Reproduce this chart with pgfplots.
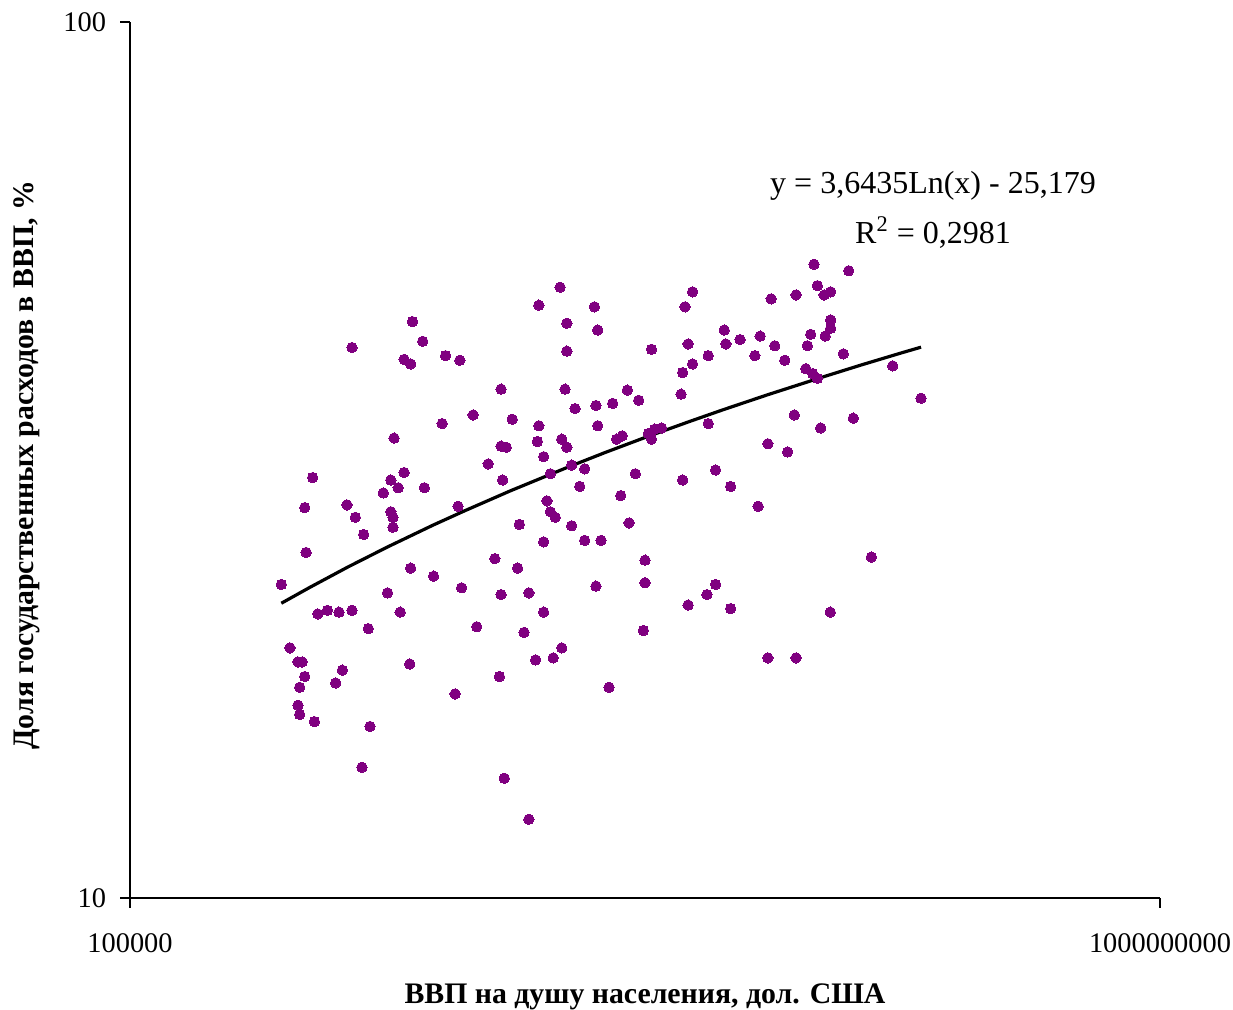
\documentclass[border=0pt]{standalone}
\usepackage{fontspec}
\setmainfont{Liberation Serif}
\usepackage{pgfplots}
\usepackage{pgfplotstable}
\pgfplotsset{compat=1.18}
\definecolor{dotpurple}{HTML}{800080}
\pgfplotstableread{
x y
1.25e6 45.5
1.37e6 43.2
7.28e5 42.5
1.16e6 41.2
1.23e6 40.7
1.68e6 41.6
1.91e6 41.1
2.15e6 35.6
1.63e6 34.8
1.06e6 33.5
4.68e6 49.8
3.87e6 47.5
6.36e6 47.3
1.53e7 49.2
1.43e7 47.3
4.97e6 45.3
6.55e6 44.5
4.97e6 42.1
1.06e7 42.3
1.47e7 42.9
1.53e7 40.7
1.40e7 39.8
1.76e7 41.6
2.76e6 38.1
4.89e6 38.1
8.54e6 38.0
9.45e6 37.0
1.38e7 37.6
5.35e6 36.2
6.45e6 36.5
7.49e6 36.7
3.05e6 35.2
3.87e6 34.6
6.55e6 34.6
1.76e7 34.8
3.82e6 33.2
4.75e6 33.4
4.97e6 32.7
2.76e6 32.8
2.89e6 32.7
7.76e6 33.4
8.16e6 33.7
1.03e7 33.9
1.09e7 34.3
1.16e7 34.4
1.06e7 33.4
4.53e7 52.9
6.18e7 52.0
4.67e7 50.0
4.96e7 48.8
5.26e7 49.2
3.09e7 48.3
3.86e7 48.8
5.26e7 45.7
5.26e7 44.7
4.40e7 44.0
5.01e7 43.8
2.03e7 44.5
2.06e7 42.9
2.34e7 43.4
2.80e7 43.8
3.19e7 42.7
4.27e7 42.7
2.67e7 41.6
3.49e7 41.1
5.89e7 41.8
4.21e7 40.2
4.48e7 39.7
4.67e7 39.2
9.16e7 40.5
1.18e8 37.2
3.80e7 35.6
6.44e7 35.3
4.81e7 34.4
3.00e7 33.0
3.58e7 32.3
2.46e6 31.3
5.12e5 30.2
1.16e6 30.6
1.03e6 30.0
1.10e6 29.4
9.63e5 29.0
1.39e6 29.4
4.77e5 27.9
6.96e5 28.1
7.50e5 27.2
1.03e6 27.6
1.05e6 27.2
1.05e6 26.5
1.88e6 28.0
8.08e5 26.0
4.83e5 24.8
1.23e6 23.8
1.51e6 23.3
1.94e6 22.6
3.87e5 22.8
1.00e6 22.3
5.36e5 21.1
5.84e5 21.3
6.48e5 21.2
7.28e5 21.3
1.12e6 21.2
8.42e5 20.3
2.22e6 20.4
4.04e6 31.9
5.19e6 31.2
5.83e6 30.9
4.29e6 30.5
2.80e6 30.0
9.17e6 30.5
1.40e7 30.0
5.58e6 29.5
8.05e6 28.8
4.16e6 28.4
4.29e6 27.6
4.48e6 27.2
3.25e6 26.7
5.19e6 26.6
8.67e6 26.8
4.04e6 25.5
5.83e6 25.6
6.75e6 25.6
2.61e6 24.4
1.00e7 24.3
3.20e6 23.8
6.45e6 22.7
1.00e7 22.9
2.76e6 22.2
3.54e6 22.3
1.74e7 22.2
1.47e7 21.6
4.04e6 21.2
3.39e6 20.1
9.85e6 20.2
1.88e7 30.8
2.15e7 29.5
2.75e7 28.0
7.57e7 24.5
1.88e7 22.8
2.15e7 21.4
5.24e7 21.2
4.18e5 19.3
4.49e5 18.6
4.66e5 18.6
4.77e5 17.9
4.56e5 17.4
4.49e5 16.6
4.56e5 16.2
5.20e5 15.9
6.68e5 18.2
6.29e5 17.6
1.22e6 18.5
1.83e6 17.1
8.55e5 15.7
7.96e5 14.1
4.75e6 19.3
4.40e6 18.8
3.76e6 18.7
2.72e6 17.9
7.25e6 17.4
2.84e6 13.7
3.54e6 12.3
3.00e7 18.8
3.86e7 18.8
}\scatterdata
\pgfplotstableread{
x y
3.87e5 21.70
5e5 22.63
7e5 23.86
1e6 25.16
1.5e6 26.64
2e6 27.68
3e6 29.16
5e6 31.02
7e6 32.25
1e7 33.55
1.5e7 35.02
2e7 36.07
3e7 37.55
5e7 39.41
7e7 40.64
1e8 41.94
1.18e8 42.54
}\trenddata
\begin{document}
\begin{tikzpicture}
\path[use as bounding box] (-65pt,-56pt) rectangle (551.5pt,449pt);
\begin{axis}[
  at={(0,0)}, anchor=south west,
  scale only axis, width=515pt, height=438pt,
  xmode=log, ymode=log,
  xmin=1e5, xmax=1e9, ymin=10, ymax=100,
  axis lines=left, axis line style={-, line width=0.6pt, black},
  xtick={1e5,1e9}, xticklabels={100000,1000000000},
  ytick={10,100}, yticklabels={10,100},
  xminorticks=false, yminorticks=false,
  tick align=outside, major tick length=5pt,
  tick style={black, line width=0.6pt},
  ticklabel style={font=\fontsize{14.2}{17}\selectfont},
  /pgf/number format/assume math mode=true,
  xticklabel style={anchor=base, yshift=-22.5pt},
  yticklabel style={anchor=east, xshift=-3.5pt},
  xlabel={ВВП на душу населения, дол. США},
  ylabel={Доля государственных расходов в ВВП, \%},
  label style={font=\fontsize{14.9}{18}\selectfont\bfseries},
  xlabel style={at={(axis description cs:0.5,-0.113)}, anchor=center},
  ylabel style={at={(axis description cs:-0.1,0.494)}, anchor=center, rotate=0},
  clip=false,
]
\addplot[only marks, color=dotpurple, mark=*, mark size=2.6pt, mark options={fill=dotpurple, draw=dotpurple, line width=0pt}] table[x=x, y=y] {\scatterdata};
\addplot[black, line width=1.6pt, no marks] table[x=x, y=y] {\trenddata};
\node[align=center, font=\fontsize{16}{25}\selectfont] at (rel axis cs:0.7796,0.7854) {y = 3,6435Ln(x) - 25,179\\R\textsuperscript{2} = 0,2981};
\end{axis}
\end{tikzpicture}
\end{document}
